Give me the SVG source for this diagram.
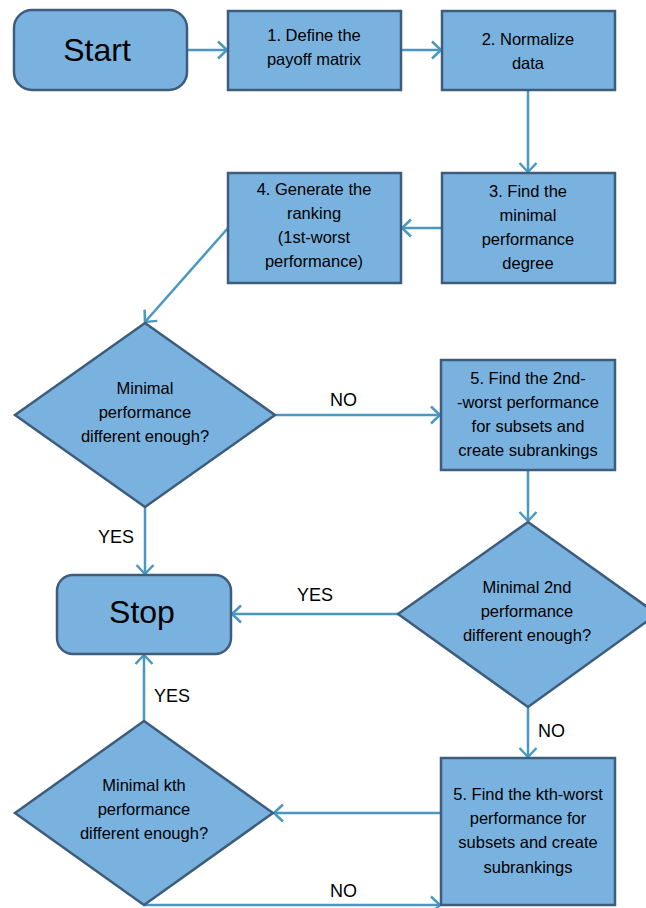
<svg xmlns="http://www.w3.org/2000/svg" width="646" height="908" viewBox="0 0 646 908">
<style>
.n{fill:#7AB2DF;stroke:#3E5C7B;stroke-width:2.5}
.t{font-family:"Liberation Sans",Arial,sans-serif;font-size:16.5px;fill:#000;text-anchor:middle}
.big{font-family:"Liberation Sans",Arial,sans-serif;font-size:32px;fill:#000;text-anchor:middle}
.lbl{font-family:"Liberation Sans",Arial,sans-serif;font-size:18px;fill:#000}
.c{fill:none;stroke:#4A97C2;stroke-width:2.5;marker-end:url(#ah)}
</style>
<defs>
<marker id="ah" markerUnits="userSpaceOnUse" markerWidth="24" markerHeight="24" viewBox="-12 -12 24 24" refX="0" refY="0" orient="auto">
<path d="M-9,-8.5 L0,0 L-9,8.5" fill="none" stroke="#4A97C2" stroke-width="2.5"/>
</marker>
</defs>
<rect width="646" height="908" fill="#fff"/>
<g id="connectors">
<line class="c" x1="187" y1="50" x2="227" y2="50"/>
<line class="c" x1="401" y1="50" x2="441" y2="50"/>
<line class="c" x1="528" y1="90" x2="528" y2="172"/>
<line class="c" x1="442" y1="228" x2="402" y2="228"/>
<line class="c" x1="228" y1="228" x2="145" y2="322"/>
<line class="c" x1="275" y1="415" x2="440" y2="415"/>
<line class="c" x1="145" y1="507" x2="145" y2="574"/>
<line class="c" x1="528" y1="470" x2="528" y2="521"/>
<line class="c" x1="398" y1="614" x2="232" y2="614"/>
<line class="c" x1="528" y1="707" x2="528" y2="757"/>
<line class="c" x1="441" y1="813" x2="274" y2="813"/>
<line class="c" x1="144" y1="721" x2="144" y2="655"/>
<line class="c" x1="144" y1="905" x2="440" y2="905"/>
<text class="lbl" x="330" y="406">NO</text>
<text class="lbl" x="98" y="543">YES</text>
<text class="lbl" x="297" y="601">YES</text>
<text class="lbl" x="538" y="737">NO</text>
<text class="lbl" x="154" y="702">YES</text>
<text class="lbl" x="330" y="897">NO</text>
</g>
<g id="start">
<rect class="n" x="14" y="10" width="173" height="80" rx="18"/>
<text class="big" x="97" y="61">Start</text>
</g>
<g id="step1">
<rect class="n" x="228" y="11" width="173" height="79"/>
<text class="t" x="314" y="41">1. Define the</text>
<text class="t" x="314" y="65">payoff matrix</text>
</g>
<g id="step2">
<rect class="n" x="442" y="11" width="173" height="79"/>
<text class="t" x="528" y="45">2. Normalize</text>
<text class="t" x="528" y="69">data</text>
</g>
<g id="step3">
<rect class="n" x="442" y="173" width="173" height="110"/>
<text class="t" x="528" y="197">3. Find the</text>
<text class="t" x="528" y="221">minimal</text>
<text class="t" x="528" y="245">performance</text>
<text class="t" x="528" y="269">degree</text>
</g>
<g id="step4">
<rect class="n" x="228" y="173" width="173" height="110"/>
<text class="t" x="314" y="195">4. Generate the</text>
<text class="t" x="314" y="219">ranking</text>
<text class="t" x="314" y="243">(1st-worst</text>
<text class="t" x="314" y="267">performance)</text>
</g>
<g id="decision1">
<polygon class="n" points="145,323 275,415 145,507 15,415"/>
<text class="t" x="145" y="394">Minimal</text>
<text class="t" x="145" y="418">performance</text>
<text class="t" x="145" y="442">different enough?</text>
</g>
<g id="step5">
<rect class="n" x="441" y="360" width="174" height="110"/>
<text class="t" x="528" y="384">5. Find the 2nd-</text>
<text class="t" x="528" y="408">-worst performance</text>
<text class="t" x="528" y="432">for subsets and</text>
<text class="t" x="528" y="456">create subrankings</text>
</g>
<g id="decision2">
<polygon class="n" points="528,522 657,614 528,707 398,614"/>
<text class="t" x="527" y="593">Minimal 2nd</text>
<text class="t" x="527" y="617">performance</text>
<text class="t" x="527" y="641">different enough?</text>
</g>
<g id="stop">
<rect class="n" x="57" y="575" width="174" height="79" rx="16"/>
<text class="big" x="142" y="623">Stop</text>
</g>
<g id="step6">
<rect class="n" x="441" y="758" width="174" height="147"/>
<text class="t" x="528" y="800">5. Find the kth-worst</text>
<text class="t" x="528" y="824">performance for</text>
<text class="t" x="528" y="848">subsets and create</text>
<text class="t" x="528" y="873">subrankings</text>
</g>
<g id="decision3">
<polygon class="n" points="144,721 273,813 144,905 15,813"/>
<text class="t" x="144" y="791">Minimal kth</text>
<text class="t" x="144" y="815">performance</text>
<text class="t" x="144" y="839">different enough?</text>
</g>
</svg>
